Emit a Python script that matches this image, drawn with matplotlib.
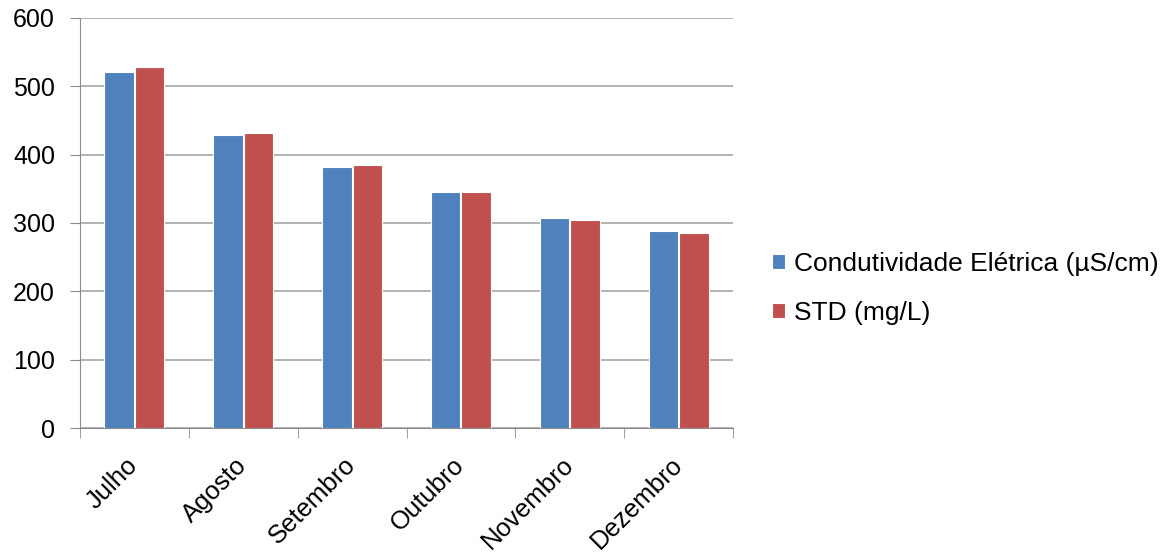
import matplotlib.pyplot as plt
import numpy as np

plt.rcParams['font.family'] = ['Liberation Sans', 'DejaVu Sans']

meses = ["Julho", "Agosto", "Setembro", "Outubro", "Novembro", "Dezembro"]
condutividade = [521, 429, 382, 345, 308, 289]
std = [529, 431, 385, 345, 304, 286]

fig = plt.figure(figsize=(11.71, 5.55), dpi=100)
ax = fig.add_axes([0.0683, 0.2288, 0.5577, 0.7388])

x = np.arange(len(meses))
w = 0.27
ax.bar(x - w / 2 - 0.005, condutividade, w, color="#4F81BD", edgecolor="white", linewidth=0.8,
       label="Condutividade Elétrica (µS/cm)", zorder=3)
ax.bar(x + w / 2 + 0.005, std, w, color="#C0504D", edgecolor="white", linewidth=0.8,
       label="STD (mg/L)", zorder=3)

ax.set_xlim(-0.5, len(meses) - 0.5)
ax.set_ylim(0, 600)
ax.set_yticks(range(0, 601, 100))
ax.yaxis.grid(True, color="#a6a6a6", linewidth=1.2, zorder=0)

# ticks nas divisas das categorias
ax.set_xticks(x)
ax.set_xticklabels(meses, rotation=45, ha="right", va="center", rotation_mode="anchor", fontsize=18.5)
ax.set_xticks(np.arange(-0.5, len(meses)), minor=True)
ax.tick_params(axis="x", which="major", length=0, pad=24)
ax.tick_params(axis="x", which="minor", length=7, color="#8c8c8c")
ax.tick_params(axis="y", length=7, color="#8c8c8c", labelsize=18, pad=11)

for s in ["top", "right"]:
    ax.spines[s].set_visible(False)
for s in ["left", "bottom"]:
    ax.spines[s].set_color("#8c8c8c")

fig.legend(loc="center left", bbox_to_anchor=(0.639, 0.48), frameon=False, fontsize=19,
           handlelength=0.5, handleheight=0.5, handletextpad=0.35, labelspacing=0.95)

plt.savefig("out.png", dpi=100)
